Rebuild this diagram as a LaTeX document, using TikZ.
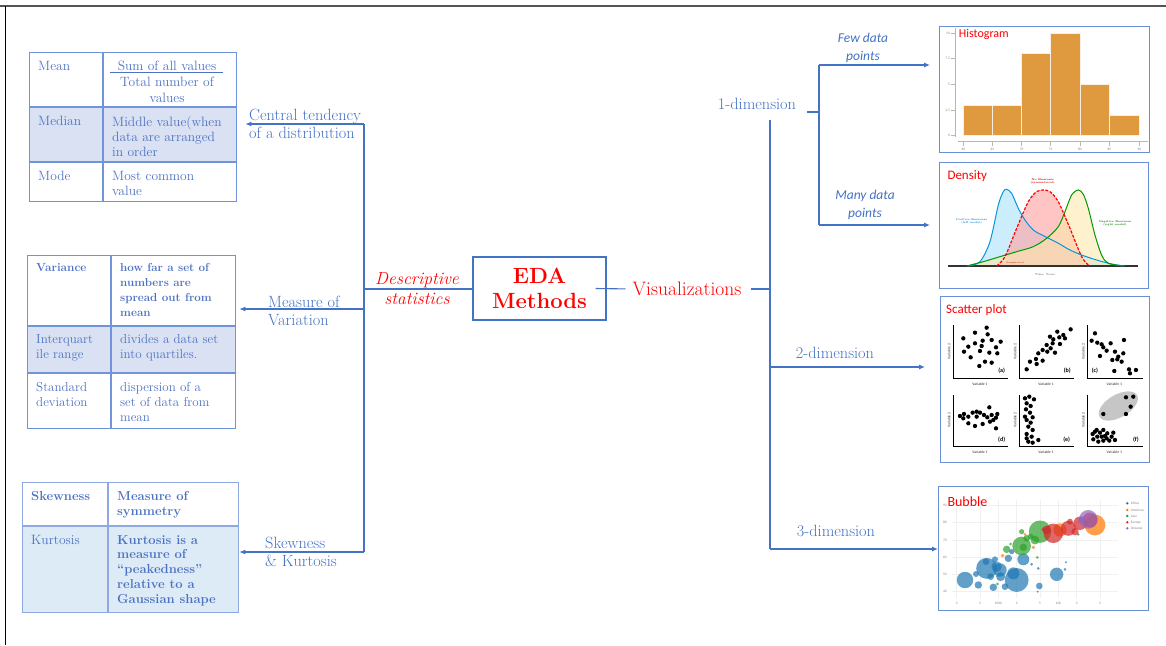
\documentclass[tikz,border=0pt]{standalone}
\usepackage{fontspec}
\newfontfamily\calibri{Carlito}
\usetikzlibrary{arrows.meta}
\definecolor{lblue}{HTML}{4472C4}
\definecolor{tline}{HTML}{7094D8}
\definecolor{ttext}{HTML}{4E72C2}
\definecolor{shadeA}{HTML}{D9E1F2}
\definecolor{shadeB}{HTML}{DDEBF7}
\definecolor{imgline}{HTML}{6A8FD8}
\definecolor{histo}{HTML}{DF9A3F}
\definecolor{axgray}{HTML}{BDB8A3}
\definecolor{edared}{HTML}{FF0000}
\definecolor{framegray}{HTML}{555555}
\definecolor{cblue}{HTML}{1F77B4}
\definecolor{corange}{HTML}{FF7F0E}
\definecolor{cgreen}{HTML}{2CA02C}
\definecolor{cred}{HTML}{D62728}
\definecolor{cpurple}{HTML}{9467BD}
\newcommand{\setfs}[2]{\fontsize{#1}{#2}\selectfont}
\begin{document}
\begin{tikzpicture}[x=1pt,y=-1pt,
  conn/.style={draw=lblue,line width=1.1pt},
  arr/.style={conn,-{Latex[length=6pt,width=5pt]}},
  tblbox/.style={draw=tline,line width=1.3pt,anchor=north west,inner sep=0pt},
  rowsep/.style={draw=tline,line width=1.8pt},
  colsep/.style={draw=tline,line width=1.3pt},
  cell/.style={anchor=north west,inner sep=0pt,align=left,text=ttext},
  lbl/.style={text=lblue,align=left,inner sep=0pt,font=\setfs{16.3}{18}},
  slbl/.style={text=lblue,align=center,inner sep=0pt,font=\calibri\itshape\setfs{13.5}{18}},
  imgbox/.style={draw=imgline,line width=1.4pt,anchor=north west,inner sep=0pt},
  imglbl/.style={text=edared,anchor=west,inner sep=0pt},
  tick/.style={inner sep=0pt,text=gray,font=\calibri\setfs{3.5}{4}},
  dot/.style={fill=black}
]
\useasboundingbox (0,0) rectangle (1166,645);
% frame
\draw[framegray,line width=1.6pt] (0,6) -- (1166,6);
\draw[black,line width=0.8pt] (5,6) -- (5,645);

% ---------------- Table 1 ----------------
\fill[shadeA] (29,107) rectangle (236,162);
\node[tblbox,minimum width=207pt,minimum height=149pt] (tab1) at (29,52) {};
\draw[colsep] (103,52) -- (103,201);
\draw[rowsep] (29,107) -- (236,107);
\draw[rowsep] (29,162) -- (236,162);
\begin{scope}[every node/.append style={font=\setfs{13.5}{15.3}}]
\node[cell] (c11) at (38,61) {Mean};
\node[cell,anchor=north,align=center] (c12) at (167,61) {Sum of all values};
\draw[ttext,line width=0.9pt] (110,72) -- (223,72);
\node[cell,anchor=north,align=center] (c12b) at (167,77) {Total number of\\values};
\node[cell] (c21) at (38,116) {Median};
\node[cell] (c22) at (112,116) {Middle value(when\\data are arranged\\in order};
\node[cell] (c31) at (38,171) {Mode};
\node[cell] (c32) at (112,171) {Most common\\value};
\end{scope}

% ---------------- Table 2 ----------------
\fill[shadeA] (27,326) rectangle (235,373);
\node[tblbox,minimum width=208pt,minimum height=173pt] (tab2) at (27,255) {};
\draw[colsep] (111,255) -- (111,428);
\draw[rowsep] (27,326) -- (235,326);
\draw[rowsep] (27,373) -- (235,373);
\begin{scope}[every node/.append style={font=\setfs{13}{15}}]
\node[cell,font=\bfseries\setfs{11.8}{15}] (d11) at (36,263) {Variance};
\node[cell,font=\bfseries\setfs{11.6}{15}] (d12) at (120,263) {how far a set of\\numbers are\\spread out from\\mean};
\node[cell] (d21) at (36,334) {Interquart\\ile range};
\node[cell] (d22) at (120,334) {divides a data set\\into quartiles.};
\node[cell] (d31) at (36,382) {Standard\\deviation};
\node[cell] (d32) at (120,382) {dispersion of a\\set of data from\\mean};
\end{scope}

% ---------------- Table 3 ----------------
\fill[shadeB] (22,526) rectangle (238,612);
\node[tblbox,draw=tline!80,minimum width=216pt,minimum height=130pt] (tab3) at (22,482) {};
\draw[colsep,draw=tline!80] (108,482) -- (108,612);
\draw[rowsep,draw=tline!80] (22,526) -- (238,526);
\begin{scope}[every node/.append style={font=\bfseries\setfs{13}{14.8}}]
\node[cell] (e11) at (31,491) {Skewness};
\node[cell] (e12) at (117,491) {Measure of\\symmetry};
\node[cell,font=\mdseries\setfs{13.5}{14.8}] (e21) at (31,535) {Kurtosis};
\node[cell] (e22) at (117,535) {Kurtosis is a\\measure of\\“peakedness”\\relative to a\\Gaussian shape};
\end{scope}

% ---------------- centre ----------------
\node[draw=lblue,line width=1.1pt,minimum width=133pt,minimum height=63pt,inner sep=0pt,
      text=edared,align=center,font=\bfseries\setfs{22}{25}] (eda) at (539.5,288.5) {EDA\\Methods};
\node[text=edared,align=center,inner sep=0pt,font=\itshape\setfs{17.5}{20}] (desc) at (417,289) {Descriptive\\statistics};
\node[text=edared,inner sep=0pt,font=\setfs{19.5}{20}] (vis) at (687,289) {Visualizations};

\node[lbl,anchor=west] (ct) at (249,124) {Central tendency\\of a distribution};
\node[lbl,anchor=west] (mv) at (268,311) {Measure of\\Variation};
\node[lbl,anchor=west] (sk) at (265,552) {Skewness\\\& Kurtosis};

\coordinate (L1) at (364,124);
\coordinate (L2) at (364,309);
\coordinate (L3) at (364,552);
\coordinate (LD) at (364,289);
\draw[conn] (L1) -- (L3);
\draw[arr,shorten >=8pt] (L1) -- (L1 -| tab1.east);
\draw[arr,shorten >=3pt] (L2) -- (L2 -| tab2.east);
\draw[arr] (L3) -- (L3 -| tab3.east);
\draw[conn] (LD) -- (LD -| eda.west);
\draw[conn,shorten >=7pt] (eda.east) ++(-11pt,0) -- (vis.west);

% ---------------- right side labels ----------------
\node[lbl,anchor=center] (d1) at (757,104) {1-dimension};
\node[lbl,anchor=center] (d2) at (835,353) {2-dimension};
\node[lbl,anchor=center] (d3) at (836,531) {3-dimension};
\node[slbl] (few) at (863,48) {Few data\\points};
\node[slbl] (many) at (865,205) {Many data\\points};

% ---------------- image boxes ----------------
\node[imgbox,minimum width=210pt,minimum height=126pt] (hist) at (939,26) {};
\node[imgbox,minimum width=209pt,minimum height=126pt] (dens) at (939,162) {};
\node[imgbox,minimum width=209pt,minimum height=166pt] (scat) at (940,296) {};
\node[imgbox,minimum width=210pt,minimum height=124pt] (bub) at (938,486) {};

\coordinate (Rt) at (770,120);
\coordinate (Rb) at (770,549);
\coordinate (R2) at (770,367);
\coordinate (S) at (807,112);
\coordinate (V1t) at (819,65);
\coordinate (V1b) at (819,225);
\draw[conn,shorten <=9pt] (vis.east) -- (vis.east -| Rt);
\draw[conn] (Rt) -- (Rb);
\draw[arr] (Rb) -- (Rb -| bub.west);
\draw[arr,shorten >=15pt] (R2) -- (R2 -| scat.west);
\draw[conn] (S) -- (S -| V1t);
\draw[conn] (V1t) -- (V1b);
\draw[arr,shorten >=9pt] (V1t) -- (V1t -| hist.west);
\draw[arr,shorten >=9pt] (V1b) -- (V1b -| dens.west);

% ---------------- Histogram ----------------
\begin{scope}[shift={(700,0)},x=0.3333pt,y=-0.3333pt]
  \foreach \a/\b/\h in {790/877/315,877/965/315,965/1052/161,1052/1140/100,1140/1228/253,1228/1318/346}
    \filldraw[fill=histo,draw=white!85!histo,line width=0.6pt] (\a,407) rectangle (\b,\h);
  \draw[axgray,line width=0.8pt] (765,85) -- (765,410);
  \foreach \y/\l in {100/10,176/7.5,253/5,330/2.5,407/0}{
    \draw[axgray,line width=0.5pt] (752,\y) -- (765,\y);
    \node[tick,anchor=east] at (750,\y) {\l};}
  \draw[axgray,line width=0.8pt] (775,425) -- (1345,425);
  \foreach \x/\l in {790/60,877/65,965/70,1052/75,1140/80,1228/85,1318/90}{
    \draw[axgray,line width=0.5pt] (\x,425) -- (\x,437);
    \node[tick] at (\x,448) {\l};}
  \node[imglbl,font=\calibri\setfs{12}{14}] at (776,103) {Histogram};
\end{scope}

% ---------------- Density ----------------
\begin{scope}[shift={(700,155)},x=0.3333pt,y=-0.3333pt]
  \fill[cyan!25!white,opacity=0.8] plot[smooth] coordinates {(805,333) (840,320) (870,260) (895,150) (910,110) (920,103) (935,115) (955,160) (975,195) (1000,225) (1030,242) (1070,262) (1110,285) (1150,302) (1200,318) (1240,328) (1270,333)} -- cycle;
  \fill[red!35!white,opacity=0.65] plot[smooth] coordinates {(890,333) (915,305) (950,220) (985,140) (1010,110) (1030,105) (1050,110) (1075,140) (1110,220) (1145,305) (1168,333)} -- cycle;
  \fill[yellow!45!orange!30!white,opacity=0.6] plot[smooth] coordinates {(800,333) (850,320) (900,305) (950,290) (1000,275) (1040,250) (1075,215) (1095,170) (1115,120) (1135,105) (1150,118) (1165,160) (1185,240) (1205,300) (1225,325) (1275,333)} -- cycle;
  \draw[black!80,line width=1.1pt] (745,333) -- (1315,333);
  \draw[cyan!80!blue,line width=1pt] plot[smooth] coordinates {(805,333) (840,320) (870,260) (895,150) (910,110) (920,103) (935,115) (955,160) (975,195) (1000,225) (1030,242) (1070,262) (1110,285) (1150,302) (1200,318) (1240,328) (1270,333)};
  \draw[green!60!black,line width=1pt] plot[smooth] coordinates {(800,333) (850,320) (900,305) (950,290) (1000,275) (1040,250) (1075,215) (1095,170) (1115,120) (1135,105) (1150,118) (1165,160) (1185,240) (1205,300) (1225,325) (1275,333)};
  \draw[red,line width=1.2pt,dashed,dash pattern=on 3pt off 1.5pt] plot[smooth] coordinates {(890,333) (915,305) (950,220) (985,140) (1010,110) (1030,105) (1050,110) (1075,140) (1110,220) (1145,305) (1168,333)};
  \node[tick,text=cyan!70!blue,font=\bfseries\setfs{2.6}{3},align=center] at (815,200) {Positive Skewness\\(left modal)};
  \node[tick,text=red!80!black,font=\bfseries\setfs{2.6}{3},align=center] at (1028,80) {No Skewness\\(symmetrical)};
  \node[tick,text=green!50!black,font=\bfseries\setfs{2.6}{3},align=center] at (1245,205) {Negative Skewness\\(right modal)};
  \node[tick,text=red!70!black,font=\setfs{2.2}{3}] at (945,325) {Asymptotical};
  \node[tick,text=black!70,font=\setfs{2.8}{3}] at (1035,360) {Time, Years};
  \node[imglbl,font=\calibri\setfs{13}{15}] at (742,62) {Density};
\end{scope}

% ---------------- Scatter ----------------
\begin{scope}[shift={(760,290)},x=0.3333pt,y=-0.3333pt]
  \node[imglbl,font=\calibri\setfs{13}{15}] at (558,60) {Scatter plot};
  \foreach \x in {580,778,983}{
    \draw[black,line width=1.3pt] (\x,105) -- (\x,265) -- (\x+165,265);
    \draw[black,line width=1.3pt] (\x,315) -- (\x,470) -- (\x+165,470);
    \node[tick,text=black!80,font=\calibri\setfs{3.8}{4}] at (\x+80,282) {Variable 1};
    \node[tick,text=black!80,font=\calibri\setfs{3.8}{4}] at (\x+80,488) {Variable 1};
    \node[tick,text=black!80,font=\calibri\setfs{3.8}{4},rotate=90] at (\x-13,185) {Variable 2};
    \node[tick,text=black!80,font=\calibri\setfs{3.8}{4},rotate=90] at (\x-13,390) {Variable 2};
  }
  \foreach \l/\x/\y in {a/725/243,b/922/243,c/1005/243,d/725/450,e/920/450,f/1128/450}
    \node[tick,text=black,font=\calibri\bfseries\setfs{6}{7}] at (\x,\y) {(\l)};
  \fill[gray!45,rotate around={30:(1075,348)}] (1075,348) ellipse [x radius=65,y radius=34];
  \foreach \p in {(610,145),(645,128),(680,113),(683,133),(625,170),(612,185),(645,160),(668,152),(695,150),(722,155),(632,202),(660,183),(688,188),(708,172),(712,190),(658,228),(675,215),(695,218),(665,168),
    (800,238),(810,215),(828,207),(830,222),(848,212),(835,190),(848,180),(862,185),(872,175),(860,165),(878,160),(880,148),(885,188),(892,125),(898,142),(910,135),(915,145),(932,118),(870,140),(900,162),
    (1005,130),(995,152),(1012,158),(1025,163),(1030,172),(1040,182),(1052,160),(1065,185),(1075,200),(1057,210),(1072,208),(1085,215),(1020,198),(1090,190),(1092,150),(1063,243),(1107,238),(1110,250),(1128,240),
    (600,378),(612,372),(625,380),(638,368),(650,380),(660,368),(672,375),(688,352),(695,375),(712,372),(708,383),(625,400),(645,408),(668,402),(690,395),(708,415),(610,385),(650,365),(682,382),(700,390),
    (795,325),(808,320),(822,328),(800,340),(812,348),(798,358),(810,368),(818,382),(800,390),(812,398),(805,410),(818,420),(800,432),(815,440),(805,455),(800,445),(818,458),(835,450),(795,380),
    (1030,372),(1098,372),(1112,350),(1098,322),(1120,320),
    (998,432),(1005,425),(1012,440),(1020,428),(1030,420),(1035,438),(1042,430),(1055,440),(1060,428),(1048,452),(1030,452),(1015,455),(1000,448),(1040,445),(1025,440),(1065,450),(1010,420)}
    \fill[dot] \p circle[radius=6.5];
\end{scope}

% ---------------- Bubble ----------------
\begin{scope}[shift={(760,470)},x=0.3333pt,y=-0.3333pt]
  \foreach \y/\l in {105/90,157/80,210/70,262/60,313/50,365/40}{
    \draw[black!6,line width=0.5pt] (575,\y) -- (1075,\y);
    \node[tick] at (555,\y) {\l};}
  \foreach \x/\l in {590/2,660/5,715/1000,770/2,840/5,895/10k,950/2,1020/5}{
    \draw[black!6,line width=0.5pt] (\x,90) -- (\x,385);
    \node[tick] at (\x,400) {\l};}
  \foreach \x/\y/\r in {615/330/22,680/295/28,720/300/18,770/330/32,890/313/18,655/345/10,700/352/10,735/350/9,790/268/16,678/275/9,705/268/8,745/265/10,722/320/12,648/312/8,838/348/9,755/245/7,835/295/4,915/298/4,918/277/3,815/283/4,692/320/9,710/290/14,760/310/16,833/365/3}
    \fill[cblue,opacity=0.7] (\x,\y) circle[radius=1.12*\r];
  \foreach \x/\y/\r in {1005/165/28,900/180/18,820/232/5,728/257/5,795/193/4}
    \fill[corange,opacity=0.75] (\x,\y) circle[radius=1.12*\r];
  \foreach \x/\y/\r in {785/228/25,840/185/30,740/238/10,790/232/10,785/185/7,812/200/8,832/262/4,712/342/4,752/222/4,955/193/4,800/205/9,825/210/12}
    \fill[cgreen,opacity=0.7] (\x,\y) circle[radius=1.12*\r];
  \foreach \x/\y/\r in {880/190/26,925/175/20,960/160/18,860/180/12,945/185/10,990/150/20,850/178/5,930/155/8}
    \fill[cred,opacity=0.7] (\x,\y) circle[radius=1.12*\r];
  \foreach \x/\y/\r in {985/148/25,965/150/10}
    \fill[cpurple,opacity=0.7] (\x,\y) circle[radius=1.12*\r];
  \foreach \c/\y/\l in {cblue/100/Africa,corange/120/Americas,cgreen/138/Asia,cred/157/Europe,cpurple/175/Oceania}{
    \fill[\c] (1102,\y) circle[radius=4];
    \node[tick,anchor=west] at (1112,\y) {\l};}
  \node[imglbl,font=\calibri\setfs{14}{16}] at (562,95) {Bubble};
\end{scope}
\end{tikzpicture}
\end{document}
